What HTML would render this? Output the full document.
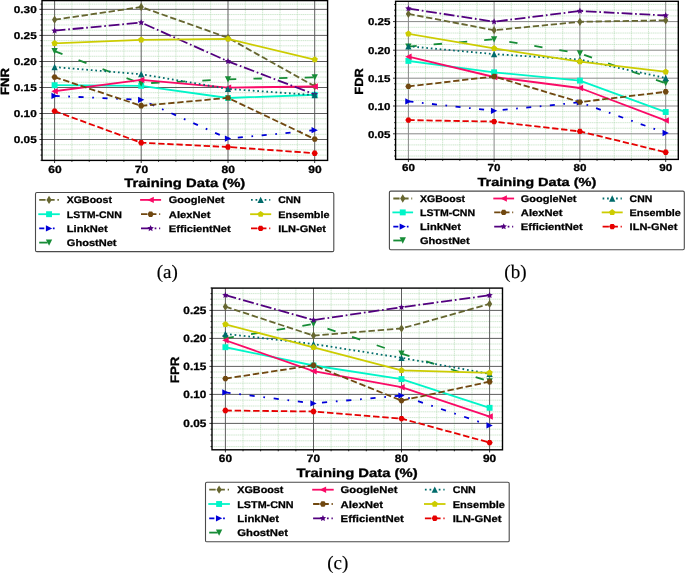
<!DOCTYPE html>
<html><head><meta charset="utf-8"><style>
html,body{margin:0;padding:0;background:#fff;}
svg{display:block;will-change:transform;text-rendering:geometricPrecision;}
</style></head><body>
<svg width="685" height="573" viewBox="0 0 685 573">
<rect width="685" height="573" fill="#fff"/>
<path d="M42 155.1H327.6M42 149.9H327.6M42 144.7H327.6M42 134.3H327.6M42 129.1H327.6M42 123.9H327.6M42 118.7H327.6M42 108.3H327.6M42 103.1H327.6M42 97.9H327.6M42 92.7H327.6M42 82.3H327.6M42 77.1H327.6M42 71.9H327.6M42 66.7H327.6M42 56.28H327.6M42 51.06H327.6M42 45.84H327.6M42 40.62H327.6M42 30.19H327.6M42 24.98H327.6M42 19.77H327.6M42 14.56H327.6M42 4.14H327.6M71.92 0.6V160.4M89.24 0.6V160.4M106.56 0.6V160.4M123.88 0.6V160.4M158.56 0.6V160.4M175.92 0.6V160.4M193.28 0.6V160.4M210.64 0.6V160.4M245.34 0.6V160.4M262.68 0.6V160.4M280.02 0.6V160.4M297.36 0.6V160.4" stroke="#a8d6a8" stroke-width="0.85" stroke-dasharray="1.3 0.55" fill="none" opacity="0.66"/>
<path d="M42 139.5H327.6M42 113.5H327.6M42 87.5H327.6M42 61.5H327.6M42 35.4H327.6M42 9.35H327.6M54.6 0.6V160.4M141.2 0.6V160.4M228 0.6V160.4M314.7 0.6V160.4" stroke="#555" stroke-width="0.95" fill="none"/>
<path d="M40.5 160.3H42M40.5 155.1H42M40.5 149.9H42M40.5 144.7H42M39.4 139.5H42M40.5 134.3H42M40.5 129.1H42M40.5 123.9H42M40.5 118.7H42M39.4 113.5H42M40.5 108.3H42M40.5 103.1H42M40.5 97.9H42M40.5 92.7H42M39.4 87.5H42M40.5 82.3H42M40.5 77.1H42M40.5 71.9H42M40.5 66.7H42M39.4 61.5H42M40.5 56.28H42M40.5 51.06H42M40.5 45.84H42M40.5 40.62H42M39.4 35.4H42M40.5 30.19H42M40.5 24.98H42M40.5 19.77H42M40.5 14.56H42M39.4 9.35H42M40.5 4.14H42M54.6 160.4V163M71.92 160.4V161.9M89.24 160.4V161.9M106.56 160.4V161.9M123.88 160.4V161.9M141.2 160.4V163M158.56 160.4V161.9M175.92 160.4V161.9M193.28 160.4V161.9M210.64 160.4V161.9M228 160.4V163M245.34 160.4V161.9M262.68 160.4V161.9M280.02 160.4V161.9M297.36 160.4V161.9M314.7 160.4V163" stroke="#000" stroke-width="0.8" fill="none"/>
<polyline points="54.6,19.7 141.2,7 228,37.8 314.7,86.3" fill="none" stroke="#666630" stroke-width="1.8" stroke-linejoin="round" stroke-linecap="butt" stroke-dasharray="6.35 2.75"/>
<polygon points="54.6,15.55 57.2,19.7 54.6,23.85 52,19.7" fill="#666630"/>
<polygon points="141.2,2.85 143.8,7 141.2,11.15 138.6,7" fill="#666630"/>
<polygon points="228,33.65 230.6,37.8 228,41.95 225.4,37.8" fill="#666630"/>
<polygon points="314.7,82.15 317.3,86.3 314.7,90.45 312.1,86.3" fill="#666630"/>
<polyline points="54.6,85.2 141.2,85.8 228,98 314.7,94.8" fill="none" stroke="#00f5c8" stroke-width="1.8" stroke-linejoin="round" stroke-linecap="square"/>
<rect x="51.65" y="82.25" width="5.9" height="5.9" fill="#00f5c8"/>
<rect x="138.25" y="82.85" width="5.9" height="5.9" fill="#00f5c8"/>
<rect x="225.05" y="95.05" width="5.9" height="5.9" fill="#00f5c8"/>
<rect x="311.75" y="91.85" width="5.9" height="5.9" fill="#00f5c8"/>
<polyline points="54.6,95.9 141.2,99.8 228,138.6 314.7,130.2" fill="none" stroke="#0000d8" stroke-width="1.8" stroke-linejoin="round" stroke-linecap="butt" stroke-dasharray="5.1 8.6 1.7 8.55"/>
<polygon points="57.75,95.9 51.45,92.75 51.45,99.05" fill="#0000d8"/>
<polygon points="144.35,99.8 138.05,96.65 138.05,102.95" fill="#0000d8"/>
<polygon points="231.15,138.6 224.85,135.45 224.85,141.75" fill="#0000d8"/>
<polygon points="317.85,130.2 311.55,127.05 311.55,133.35" fill="#0000d8"/>
<polyline points="54.6,51.2 141.2,83.5 228,79.3 314.7,77.3" fill="none" stroke="#168c36" stroke-width="1.8" stroke-linejoin="round" stroke-linecap="butt" stroke-dasharray="8.4 17.2"/>
<polygon points="51.45,48.05 57.75,48.05 54.6,54.35" fill="#168c36"/>
<polygon points="138.05,80.35 144.35,80.35 141.2,86.65" fill="#168c36"/>
<polygon points="224.85,76.15 231.15,76.15 228,82.45" fill="#168c36"/>
<polygon points="311.55,74.15 317.85,74.15 314.7,80.45" fill="#168c36"/>
<polyline points="54.6,91.2 141.2,79.9 228,87.6 314.7,86.5" fill="none" stroke="#fa0a66" stroke-width="1.8" stroke-linejoin="round" stroke-linecap="square"/>
<polygon points="51.4,91.2 57.8,88 57.8,94.4" fill="#fa0a66"/>
<polygon points="138,79.9 144.4,76.7 144.4,83.1" fill="#fa0a66"/>
<polygon points="224.8,87.6 231.2,84.4 231.2,90.8" fill="#fa0a66"/>
<polygon points="311.5,86.5 317.9,83.3 317.9,89.7" fill="#fa0a66"/>
<polyline points="54.6,77.1 141.2,105.8 228,97.9 314.7,139.1" fill="none" stroke="#704810" stroke-width="1.8" stroke-linejoin="round" stroke-linecap="butt" stroke-dasharray="6.35 2.75"/>
<polygon points="57.7,77.1 56.15,79.78 53.05,79.78 51.5,77.1 53.05,74.42 56.15,74.42" fill="#704810"/>
<polygon points="144.3,105.8 142.75,108.48 139.65,108.48 138.1,105.8 139.65,103.12 142.75,103.12" fill="#704810"/>
<polygon points="231.1,97.9 229.55,100.58 226.45,100.58 224.9,97.9 226.45,95.22 229.55,95.22" fill="#704810"/>
<polygon points="317.8,139.1 316.25,141.78 313.15,141.78 311.6,139.1 313.15,136.42 316.25,136.42" fill="#704810"/>
<polyline points="54.6,30.7 141.2,22.6 228,61.3 314.7,94.4" fill="none" stroke="#52007f" stroke-width="1.8" stroke-linejoin="round" stroke-linecap="butt" stroke-dasharray="10.9 2.75 1.7 2.75"/>
<polygon points="54.6,27.3 55.54,29.41 57.83,29.65 56.12,31.19 56.6,33.45 54.6,32.3 52.6,33.45 53.08,31.19 51.37,29.65 53.66,29.41" fill="#52007f"/>
<polygon points="141.2,19.2 142.14,21.31 144.43,21.55 142.72,23.09 143.2,25.35 141.2,24.2 139.2,25.35 139.68,23.09 137.97,21.55 140.26,21.31" fill="#52007f"/>
<polygon points="228,57.9 228.94,60.01 231.23,60.25 229.52,61.79 230,64.05 228,62.9 226,64.05 226.48,61.79 224.77,60.25 227.06,60.01" fill="#52007f"/>
<polygon points="314.7,91 315.64,93.11 317.93,93.35 316.22,94.89 316.7,97.15 314.7,96 312.7,97.15 313.18,94.89 311.47,93.35 313.76,93.11" fill="#52007f"/>
<polyline points="54.6,67.1 141.2,74.2 228,88.9 314.7,95.1" fill="none" stroke="#006b6b" stroke-width="1.8" stroke-linejoin="round" stroke-linecap="butt" stroke-dasharray="1.7 2.84"/>
<polygon points="54.6,63.95 57.75,70.25 51.45,70.25" fill="#006b6b"/>
<polygon points="141.2,71.05 144.35,77.35 138.05,77.35" fill="#006b6b"/>
<polygon points="228,85.75 231.15,92.05 224.85,92.05" fill="#006b6b"/>
<polygon points="314.7,91.95 317.85,98.25 311.55,98.25" fill="#006b6b"/>
<polyline points="54.6,43.3 141.2,39.8 228,38.9 314.7,59.6" fill="none" stroke="#cccc00" stroke-width="1.8" stroke-linejoin="round" stroke-linecap="square"/>
<polygon points="54.6,40 57.74,42.28 56.54,45.97 52.66,45.97 51.46,42.28" fill="#cccc00"/>
<polygon points="141.2,36.5 144.34,38.78 143.14,42.47 139.26,42.47 138.06,38.78" fill="#cccc00"/>
<polygon points="228,35.6 231.14,37.88 229.94,41.57 226.06,41.57 224.86,37.88" fill="#cccc00"/>
<polygon points="314.7,56.3 317.84,58.58 316.64,62.27 312.76,62.27 311.56,58.58" fill="#cccc00"/>
<polyline points="54.6,111.1 141.2,142.7 228,147 314.7,153.2" fill="none" stroke="#e60000" stroke-width="1.8" stroke-linejoin="round" stroke-linecap="butt" stroke-dasharray="6.35 2.75"/>
<polygon points="57.7,111.1 56.15,113.78 53.05,113.78 51.5,111.1 53.05,108.42 56.15,108.42" fill="#e60000"/>
<polygon points="144.3,142.7 142.75,145.38 139.65,145.38 138.1,142.7 139.65,140.02 142.75,140.02" fill="#e60000"/>
<polygon points="231.1,147 229.55,149.68 226.45,149.68 224.9,147 226.45,144.32 229.55,144.32" fill="#e60000"/>
<polygon points="317.8,153.2 316.25,155.88 313.15,155.88 311.6,153.2 313.15,150.52 316.25,150.52" fill="#e60000"/>
<rect x="42" y="0.6" width="285.6" height="159.8" fill="none" stroke="#000" stroke-width="1.4"/>
<text x="36.7" y="143.2" font-family='"Liberation Sans", sans-serif' font-size="10" font-weight="bold" text-anchor="end" textLength="22.95" lengthAdjust="spacingAndGlyphs" stroke="#000" stroke-width="0.28">0.05</text>
<text x="36.7" y="117.2" font-family='"Liberation Sans", sans-serif' font-size="10" font-weight="bold" text-anchor="end" textLength="22.95" lengthAdjust="spacingAndGlyphs" stroke="#000" stroke-width="0.28">0.10</text>
<text x="36.7" y="91.2" font-family='"Liberation Sans", sans-serif' font-size="10" font-weight="bold" text-anchor="end" textLength="22.95" lengthAdjust="spacingAndGlyphs" stroke="#000" stroke-width="0.28">0.15</text>
<text x="36.7" y="65.2" font-family='"Liberation Sans", sans-serif' font-size="10" font-weight="bold" text-anchor="end" textLength="22.95" lengthAdjust="spacingAndGlyphs" stroke="#000" stroke-width="0.28">0.20</text>
<text x="36.7" y="39.1" font-family='"Liberation Sans", sans-serif' font-size="10" font-weight="bold" text-anchor="end" textLength="22.95" lengthAdjust="spacingAndGlyphs" stroke="#000" stroke-width="0.28">0.25</text>
<text x="36.7" y="13.05" font-family='"Liberation Sans", sans-serif' font-size="10" font-weight="bold" text-anchor="end" textLength="22.95" lengthAdjust="spacingAndGlyphs" stroke="#000" stroke-width="0.28">0.30</text>
<text x="54.9" y="172.9" font-family='"Liberation Sans", sans-serif' font-size="10.4" font-weight="bold" text-anchor="middle" textLength="13.36" lengthAdjust="spacingAndGlyphs" stroke="#000" stroke-width="0.29">60</text>
<text x="141.5" y="172.9" font-family='"Liberation Sans", sans-serif' font-size="10.4" font-weight="bold" text-anchor="middle" textLength="13.36" lengthAdjust="spacingAndGlyphs" stroke="#000" stroke-width="0.29">70</text>
<text x="228.3" y="172.9" font-family='"Liberation Sans", sans-serif' font-size="10.4" font-weight="bold" text-anchor="middle" textLength="13.36" lengthAdjust="spacingAndGlyphs" stroke="#000" stroke-width="0.29">80</text>
<text x="315" y="172.9" font-family='"Liberation Sans", sans-serif' font-size="10.4" font-weight="bold" text-anchor="middle" textLength="13.36" lengthAdjust="spacingAndGlyphs" stroke="#000" stroke-width="0.29">90</text>
<text x="184.8" y="186.9" font-family='"Liberation Sans", sans-serif' font-size="12" font-weight="bold" text-anchor="middle" textLength="121" lengthAdjust="spacingAndGlyphs" stroke="#000" stroke-width="0.34">Training Data (%)</text>
<g transform="translate(9,81.6) rotate(-90)"><text x="0" y="0" font-family='"Liberation Sans", sans-serif' font-size="12" font-weight="bold" text-anchor="middle" textLength="26.8" lengthAdjust="spacingAndGlyphs" stroke="#000" stroke-width="0.34">FNR</text></g>
<rect x="35.5" y="192.5" width="298.3" height="59.1" rx="1.4" ry="1.4" fill="#fff" stroke="#4a4a4a" stroke-width="1.1"/>
<polyline points="39.2,199.9 58.9,199.9" fill="none" stroke="#666630" stroke-width="1.8" stroke-linejoin="round" stroke-linecap="butt" stroke-dasharray="6.35 2.75"/>
<polygon points="49.05,195.75 51.65,199.9 49.05,204.05 46.45,199.9" fill="#666630"/>
<text x="66.8" y="203.3" font-family='"Liberation Sans", sans-serif' font-size="9.6" font-weight="bold" text-anchor="start" textLength="45.13" lengthAdjust="spacingAndGlyphs" stroke="#000" stroke-width="0.27">XGBoost</text>
<polyline points="39.2,214.2 58.9,214.2" fill="none" stroke="#00f5c8" stroke-width="1.8" stroke-linejoin="round" stroke-linecap="square"/>
<rect x="46.1" y="211.25" width="5.9" height="5.9" fill="#00f5c8"/>
<text x="66.8" y="217.6" font-family='"Liberation Sans", sans-serif' font-size="9.6" font-weight="bold" text-anchor="start" textLength="55.06" lengthAdjust="spacingAndGlyphs" stroke="#000" stroke-width="0.27">LSTM-CNN</text>
<polyline points="39.2,228.4 58.9,228.4" fill="none" stroke="#0000d8" stroke-width="1.8" stroke-linejoin="round" stroke-linecap="butt" stroke-dasharray="5.1 8.6 1.7 8.55"/>
<polygon points="52.2,228.4 45.9,225.25 45.9,231.55" fill="#0000d8"/>
<text x="66.8" y="231.8" font-family='"Liberation Sans", sans-serif' font-size="9.6" font-weight="bold" text-anchor="start" textLength="40.89" lengthAdjust="spacingAndGlyphs" stroke="#000" stroke-width="0.27">LinkNet</text>
<polyline points="39.2,242.6 58.9,242.6" fill="none" stroke="#168c36" stroke-width="1.8" stroke-linejoin="round" stroke-linecap="butt" stroke-dasharray="8.4 17.2"/>
<polygon points="45.9,239.45 52.2,239.45 49.05,245.75" fill="#168c36"/>
<text x="66.8" y="246" font-family='"Liberation Sans", sans-serif' font-size="9.6" font-weight="bold" text-anchor="start" textLength="49.69" lengthAdjust="spacingAndGlyphs" stroke="#000" stroke-width="0.27">GhostNet</text>
<polyline points="141,199.9 160.2,199.9" fill="none" stroke="#fa0a66" stroke-width="1.8" stroke-linejoin="round" stroke-linecap="square"/>
<polygon points="147.4,199.9 153.8,196.7 153.8,203.1" fill="#fa0a66"/>
<text x="168.8" y="203.3" font-family='"Liberation Sans", sans-serif' font-size="9.6" font-weight="bold" text-anchor="start" textLength="55.69" lengthAdjust="spacingAndGlyphs" stroke="#000" stroke-width="0.27">GoogleNet</text>
<polyline points="141,214.2 160.2,214.2" fill="none" stroke="#704810" stroke-width="1.8" stroke-linejoin="round" stroke-linecap="butt" stroke-dasharray="6.35 2.75"/>
<polygon points="153.7,214.2 152.15,216.88 149.05,216.88 147.5,214.2 149.05,211.52 152.15,211.52" fill="#704810"/>
<text x="168.8" y="217.6" font-family='"Liberation Sans", sans-serif' font-size="9.6" font-weight="bold" text-anchor="start" textLength="41.67" lengthAdjust="spacingAndGlyphs" stroke="#000" stroke-width="0.27">AlexNet</text>
<polyline points="141,228.4 160.2,228.4" fill="none" stroke="#52007f" stroke-width="1.8" stroke-linejoin="round" stroke-linecap="butt" stroke-dasharray="10.9 2.75 1.7 2.75"/>
<polygon points="150.6,225 151.54,227.11 153.83,227.35 152.12,228.89 152.6,231.15 150.6,230 148.6,231.15 149.08,228.89 147.37,227.35 149.66,227.11" fill="#52007f"/>
<text x="168.8" y="231.8" font-family='"Liberation Sans", sans-serif' font-size="9.6" font-weight="bold" text-anchor="start" textLength="62" lengthAdjust="spacingAndGlyphs" stroke="#000" stroke-width="0.27">EfficientNet</text>
<polyline points="251,199.9 270.3,199.9" fill="none" stroke="#006b6b" stroke-width="1.8" stroke-linejoin="round" stroke-linecap="butt" stroke-dasharray="1.7 2.84"/>
<polygon points="260.65,196.75 263.8,203.05 257.5,203.05" fill="#006b6b"/>
<text x="278.3" y="203.3" font-family='"Liberation Sans", sans-serif' font-size="9.6" font-weight="bold" text-anchor="start" textLength="22.63" lengthAdjust="spacingAndGlyphs" stroke="#000" stroke-width="0.27">CNN</text>
<polyline points="251,214.2 270.3,214.2" fill="none" stroke="#cccc00" stroke-width="1.8" stroke-linejoin="round" stroke-linecap="square"/>
<polygon points="260.65,210.9 263.79,213.18 262.59,216.87 258.71,216.87 257.51,213.18" fill="#cccc00"/>
<text x="278.3" y="217.6" font-family='"Liberation Sans", sans-serif' font-size="9.6" font-weight="bold" text-anchor="start" textLength="51.2" lengthAdjust="spacingAndGlyphs" stroke="#000" stroke-width="0.27">Ensemble</text>
<polyline points="251,228.4 270.3,228.4" fill="none" stroke="#e60000" stroke-width="1.8" stroke-linejoin="round" stroke-linecap="butt" stroke-dasharray="6.35 2.75"/>
<polygon points="263.75,228.4 262.2,231.08 259.1,231.08 257.55,228.4 259.1,225.72 262.2,225.72" fill="#e60000"/>
<text x="278.3" y="231.8" font-family='"Liberation Sans", sans-serif' font-size="9.6" font-weight="bold" text-anchor="start" textLength="47.71" lengthAdjust="spacingAndGlyphs" stroke="#000" stroke-width="0.27">ILN-GNet</text>
<text x="167.3" y="277.8" font-family='"Liberation Serif", serif' font-size="19" font-weight="normal" text-anchor="middle" stroke="#000" stroke-width="0.15">(a)</text>
<path d="M395.6 156.04H678.3M395.6 150.48H678.3M395.6 144.92H678.3M395.6 139.36H678.3M395.6 128.24H678.3M395.6 122.68H678.3M395.6 117.12H678.3M395.6 111.56H678.3M395.6 100.44H678.3M395.6 94.88H678.3M395.6 89.32H678.3M395.6 83.76H678.3M395.6 72.6H678.3M395.6 67H678.3M395.6 61.4H678.3M395.6 55.8H678.3M395.6 44.48H678.3M395.6 38.76H678.3M395.6 33.04H678.3M395.6 27.32H678.3M395.6 15.88H678.3M395.6 10.16H678.3M395.6 4.44H678.3M425.54 1.3V159.4M442.68 1.3V159.4M459.82 1.3V159.4M476.96 1.3V159.4M511.26 1.3V159.4M528.42 1.3V159.4M545.58 1.3V159.4M562.74 1.3V159.4M597.06 1.3V159.4M614.22 1.3V159.4M631.38 1.3V159.4M648.54 1.3V159.4" stroke="#a8d6a8" stroke-width="0.85" stroke-dasharray="1.3 0.55" fill="none" opacity="0.66"/>
<path d="M395.6 133.8H678.3M395.6 106H678.3M395.6 78.2H678.3M395.6 50.2H678.3M395.6 21.6H678.3M408.4 1.3V159.4M494.1 1.3V159.4M579.9 1.3V159.4M665.7 1.3V159.4" stroke="#888" stroke-width="1.0" fill="none"/>
<path d="M394.1 156.04H395.6M394.1 150.48H395.6M394.1 144.92H395.6M394.1 139.36H395.6M393 133.8H395.6M394.1 128.24H395.6M394.1 122.68H395.6M394.1 117.12H395.6M394.1 111.56H395.6M393 106H395.6M394.1 100.44H395.6M394.1 94.88H395.6M394.1 89.32H395.6M394.1 83.76H395.6M393 78.2H395.6M394.1 72.6H395.6M394.1 67H395.6M394.1 61.4H395.6M394.1 55.8H395.6M393 50.2H395.6M394.1 44.48H395.6M394.1 38.76H395.6M394.1 33.04H395.6M394.1 27.32H395.6M393 21.6H395.6M394.1 15.88H395.6M394.1 10.16H395.6M394.1 4.44H395.6M408.4 159.4V162M425.54 159.4V160.9M442.68 159.4V160.9M459.82 159.4V160.9M476.96 159.4V160.9M494.1 159.4V162M511.26 159.4V160.9M528.42 159.4V160.9M545.58 159.4V160.9M562.74 159.4V160.9M579.9 159.4V162M597.06 159.4V160.9M614.22 159.4V160.9M631.38 159.4V160.9M648.54 159.4V160.9M665.7 159.4V162" stroke="#000" stroke-width="0.8" fill="none"/>
<polyline points="408.4,13.9 494.1,30.2 579.9,21.8 665.7,20.3" fill="none" stroke="#666630" stroke-width="1.8" stroke-linejoin="round" stroke-linecap="butt" stroke-dasharray="6.29 2.72"/>
<polygon points="408.4,9.75 411,13.9 408.4,18.05 405.8,13.9" fill="#666630"/>
<polygon points="494.1,26.05 496.7,30.2 494.1,34.35 491.5,30.2" fill="#666630"/>
<polygon points="579.9,17.65 582.5,21.8 579.9,25.95 577.3,21.8" fill="#666630"/>
<polygon points="665.7,16.15 668.3,20.3 665.7,24.45 663.1,20.3" fill="#666630"/>
<polyline points="408.4,60.9 494.1,72.3 579.9,80.6 665.7,112" fill="none" stroke="#00f5c8" stroke-width="1.8" stroke-linejoin="round" stroke-linecap="square"/>
<rect x="405.45" y="57.95" width="5.9" height="5.9" fill="#00f5c8"/>
<rect x="491.15" y="69.35" width="5.9" height="5.9" fill="#00f5c8"/>
<rect x="576.95" y="77.65" width="5.9" height="5.9" fill="#00f5c8"/>
<rect x="662.75" y="109.05" width="5.9" height="5.9" fill="#00f5c8"/>
<polyline points="408.4,101.4 494.1,110.8 579.9,102.3 665.7,133" fill="none" stroke="#0000d8" stroke-width="1.8" stroke-linejoin="round" stroke-linecap="butt" stroke-dasharray="5.05 8.51 1.68 8.46"/>
<polygon points="411.55,101.4 405.25,98.25 405.25,104.55" fill="#0000d8"/>
<polygon points="497.25,110.8 490.95,107.65 490.95,113.95" fill="#0000d8"/>
<polygon points="583.05,102.3 576.75,99.15 576.75,105.45" fill="#0000d8"/>
<polygon points="668.85,133 662.55,129.85 662.55,136.15" fill="#0000d8"/>
<polyline points="408.4,46.6 494.1,39.3 579.9,53.5 665.7,83.2" fill="none" stroke="#168c36" stroke-width="1.8" stroke-linejoin="round" stroke-linecap="butt" stroke-dasharray="8.32 17.03"/>
<polygon points="405.25,43.45 411.55,43.45 408.4,49.75" fill="#168c36"/>
<polygon points="490.95,36.15 497.25,36.15 494.1,42.45" fill="#168c36"/>
<polygon points="576.75,50.35 583.05,50.35 579.9,56.65" fill="#168c36"/>
<polygon points="662.55,80.05 668.85,80.05 665.7,86.35" fill="#168c36"/>
<polyline points="408.4,56.7 494.1,77 579.9,88 665.7,120.5" fill="none" stroke="#fa0a66" stroke-width="1.8" stroke-linejoin="round" stroke-linecap="square"/>
<polygon points="405.2,56.7 411.6,53.5 411.6,59.9" fill="#fa0a66"/>
<polygon points="490.9,77 497.3,73.8 497.3,80.2" fill="#fa0a66"/>
<polygon points="576.7,88 583.1,84.8 583.1,91.2" fill="#fa0a66"/>
<polygon points="662.5,120.5 668.9,117.3 668.9,123.7" fill="#fa0a66"/>
<polyline points="408.4,86.4 494.1,76.5 579.9,102.1 665.7,91.8" fill="none" stroke="#704810" stroke-width="1.8" stroke-linejoin="round" stroke-linecap="butt" stroke-dasharray="6.29 2.72"/>
<polygon points="411.5,86.4 409.95,89.08 406.85,89.08 405.3,86.4 406.85,83.72 409.95,83.72" fill="#704810"/>
<polygon points="497.2,76.5 495.65,79.18 492.55,79.18 491,76.5 492.55,73.82 495.65,73.82" fill="#704810"/>
<polygon points="583,102.1 581.45,104.78 578.35,104.78 576.8,102.1 578.35,99.42 581.45,99.42" fill="#704810"/>
<polygon points="668.8,91.8 667.25,94.48 664.15,94.48 662.6,91.8 664.15,89.12 667.25,89.12" fill="#704810"/>
<polyline points="408.4,8.6 494.1,21.7 579.9,11 665.7,15.5" fill="none" stroke="#52007f" stroke-width="1.8" stroke-linejoin="round" stroke-linecap="butt" stroke-dasharray="10.79 2.72 1.68 2.72"/>
<polygon points="408.4,5.2 409.34,7.31 411.63,7.55 409.92,9.09 410.4,11.35 408.4,10.2 406.4,11.35 406.88,9.09 405.17,7.55 407.46,7.31" fill="#52007f"/>
<polygon points="494.1,18.3 495.04,20.41 497.33,20.65 495.62,22.19 496.1,24.45 494.1,23.3 492.1,24.45 492.58,22.19 490.87,20.65 493.16,20.41" fill="#52007f"/>
<polygon points="579.9,7.6 580.84,9.71 583.13,9.95 581.42,11.49 581.9,13.75 579.9,12.6 577.9,13.75 578.38,11.49 576.67,9.95 578.96,9.71" fill="#52007f"/>
<polygon points="665.7,12.1 666.64,14.21 668.93,14.45 667.22,15.99 667.7,18.25 665.7,17.1 663.7,18.25 664.18,15.99 662.47,14.45 664.76,14.21" fill="#52007f"/>
<polyline points="408.4,46.3 494.1,54.1 579.9,59.6 665.7,78" fill="none" stroke="#006b6b" stroke-width="1.8" stroke-linejoin="round" stroke-linecap="butt" stroke-dasharray="1.68 2.81"/>
<polygon points="408.4,43.15 411.55,49.45 405.25,49.45" fill="#006b6b"/>
<polygon points="494.1,50.95 497.25,57.25 490.95,57.25" fill="#006b6b"/>
<polygon points="579.9,56.45 583.05,62.75 576.75,62.75" fill="#006b6b"/>
<polygon points="665.7,74.85 668.85,81.15 662.55,81.15" fill="#006b6b"/>
<polyline points="408.4,33.8 494.1,48.4 579.9,61.6 665.7,71.8" fill="none" stroke="#cccc00" stroke-width="1.8" stroke-linejoin="round" stroke-linecap="square"/>
<polygon points="408.4,30.5 411.54,32.78 410.34,36.47 406.46,36.47 405.26,32.78" fill="#cccc00"/>
<polygon points="494.1,45.1 497.24,47.38 496.04,51.07 492.16,51.07 490.96,47.38" fill="#cccc00"/>
<polygon points="579.9,58.3 583.04,60.58 581.84,64.27 577.96,64.27 576.76,60.58" fill="#cccc00"/>
<polygon points="665.7,68.5 668.84,70.78 667.64,74.47 663.76,74.47 662.56,70.78" fill="#cccc00"/>
<polyline points="408.4,120.1 494.1,121.6 579.9,131.4 665.7,152.3" fill="none" stroke="#e60000" stroke-width="1.8" stroke-linejoin="round" stroke-linecap="butt" stroke-dasharray="6.29 2.72"/>
<polygon points="411.5,120.1 409.95,122.78 406.85,122.78 405.3,120.1 406.85,117.42 409.95,117.42" fill="#e60000"/>
<polygon points="497.2,121.6 495.65,124.28 492.55,124.28 491,121.6 492.55,118.92 495.65,118.92" fill="#e60000"/>
<polygon points="583,131.4 581.45,134.08 578.35,134.08 576.8,131.4 578.35,128.72 581.45,128.72" fill="#e60000"/>
<polygon points="668.8,152.3 667.25,154.98 664.15,154.98 662.6,152.3 664.15,149.62 667.25,149.62" fill="#e60000"/>
<rect x="395.6" y="1.3" width="282.7" height="158.1" fill="none" stroke="#000" stroke-width="1.4"/>
<text x="390.4" y="137.5" font-family='"Liberation Sans", sans-serif' font-size="10" font-weight="bold" text-anchor="end" textLength="22.45" lengthAdjust="spacingAndGlyphs" stroke="#000" stroke-width="0.28">0.05</text>
<text x="390.4" y="109.7" font-family='"Liberation Sans", sans-serif' font-size="10" font-weight="bold" text-anchor="end" textLength="22.45" lengthAdjust="spacingAndGlyphs" stroke="#000" stroke-width="0.28">0.10</text>
<text x="390.4" y="81.9" font-family='"Liberation Sans", sans-serif' font-size="10" font-weight="bold" text-anchor="end" textLength="22.45" lengthAdjust="spacingAndGlyphs" stroke="#000" stroke-width="0.28">0.15</text>
<text x="390.4" y="53.9" font-family='"Liberation Sans", sans-serif' font-size="10" font-weight="bold" text-anchor="end" textLength="22.45" lengthAdjust="spacingAndGlyphs" stroke="#000" stroke-width="0.28">0.20</text>
<text x="390.4" y="25.3" font-family='"Liberation Sans", sans-serif' font-size="10" font-weight="bold" text-anchor="end" textLength="22.45" lengthAdjust="spacingAndGlyphs" stroke="#000" stroke-width="0.28">0.25</text>
<text x="408.4" y="171.3" font-family='"Liberation Sans", sans-serif' font-size="10.2" font-weight="bold" text-anchor="middle" textLength="12.94" lengthAdjust="spacingAndGlyphs" stroke="#000" stroke-width="0.29">60</text>
<text x="494.1" y="171.3" font-family='"Liberation Sans", sans-serif' font-size="10.2" font-weight="bold" text-anchor="middle" textLength="12.94" lengthAdjust="spacingAndGlyphs" stroke="#000" stroke-width="0.29">70</text>
<text x="579.9" y="171.3" font-family='"Liberation Sans", sans-serif' font-size="10.2" font-weight="bold" text-anchor="middle" textLength="12.94" lengthAdjust="spacingAndGlyphs" stroke="#000" stroke-width="0.29">80</text>
<text x="665.7" y="171.3" font-family='"Liberation Sans", sans-serif' font-size="10.2" font-weight="bold" text-anchor="middle" textLength="12.94" lengthAdjust="spacingAndGlyphs" stroke="#000" stroke-width="0.29">90</text>
<text x="536.9" y="185.7" font-family='"Liberation Sans", sans-serif' font-size="11.8" font-weight="bold" text-anchor="middle" textLength="119" lengthAdjust="spacingAndGlyphs" stroke="#000" stroke-width="0.33">Training Data (%)</text>
<g transform="translate(362.9,81.5) rotate(-90)"><text x="0" y="0" font-family='"Liberation Sans", sans-serif' font-size="11.8" font-weight="bold" text-anchor="middle" textLength="26.4" lengthAdjust="spacingAndGlyphs" stroke="#000" stroke-width="0.33">FDR</text></g>
<rect x="389.4" y="191.1" width="294.9" height="58.6" rx="1.4" ry="1.4" fill="#fff" stroke="#4a4a4a" stroke-width="1.1"/>
<polyline points="393.3,198.5 412.2,198.5" fill="none" stroke="#666630" stroke-width="1.8" stroke-linejoin="round" stroke-linecap="butt" stroke-dasharray="6.29 2.72"/>
<polygon points="402.75,194.35 405.35,198.5 402.75,202.65 400.15,198.5" fill="#666630"/>
<text x="420" y="201.9" font-family='"Liberation Sans", sans-serif' font-size="9.6" font-weight="bold" text-anchor="start" textLength="45.13" lengthAdjust="spacingAndGlyphs" stroke="#000" stroke-width="0.27">XGBoost</text>
<polyline points="393.3,212.4 412.2,212.4" fill="none" stroke="#00f5c8" stroke-width="1.8" stroke-linejoin="round" stroke-linecap="square"/>
<rect x="399.8" y="209.45" width="5.9" height="5.9" fill="#00f5c8"/>
<text x="420" y="215.8" font-family='"Liberation Sans", sans-serif' font-size="9.6" font-weight="bold" text-anchor="start" textLength="55.06" lengthAdjust="spacingAndGlyphs" stroke="#000" stroke-width="0.27">LSTM-CNN</text>
<polyline points="393.3,226.6 412.2,226.6" fill="none" stroke="#0000d8" stroke-width="1.8" stroke-linejoin="round" stroke-linecap="butt" stroke-dasharray="5.05 8.51 1.68 8.46"/>
<polygon points="405.9,226.6 399.6,223.45 399.6,229.75" fill="#0000d8"/>
<text x="420" y="230" font-family='"Liberation Sans", sans-serif' font-size="9.6" font-weight="bold" text-anchor="start" textLength="40.89" lengthAdjust="spacingAndGlyphs" stroke="#000" stroke-width="0.27">LinkNet</text>
<polyline points="393.3,240.5 412.2,240.5" fill="none" stroke="#168c36" stroke-width="1.8" stroke-linejoin="round" stroke-linecap="butt" stroke-dasharray="8.32 17.03"/>
<polygon points="399.6,237.35 405.9,237.35 402.75,243.65" fill="#168c36"/>
<text x="420" y="243.9" font-family='"Liberation Sans", sans-serif' font-size="9.6" font-weight="bold" text-anchor="start" textLength="49.69" lengthAdjust="spacingAndGlyphs" stroke="#000" stroke-width="0.27">GhostNet</text>
<polyline points="494.2,198.5 513.2,198.5" fill="none" stroke="#fa0a66" stroke-width="1.8" stroke-linejoin="round" stroke-linecap="square"/>
<polygon points="500.5,198.5 506.9,195.3 506.9,201.7" fill="#fa0a66"/>
<text x="520.8" y="201.9" font-family='"Liberation Sans", sans-serif' font-size="9.6" font-weight="bold" text-anchor="start" textLength="55.69" lengthAdjust="spacingAndGlyphs" stroke="#000" stroke-width="0.27">GoogleNet</text>
<polyline points="494.2,212.4 513.2,212.4" fill="none" stroke="#704810" stroke-width="1.8" stroke-linejoin="round" stroke-linecap="butt" stroke-dasharray="6.29 2.72"/>
<polygon points="506.8,212.4 505.25,215.08 502.15,215.08 500.6,212.4 502.15,209.72 505.25,209.72" fill="#704810"/>
<text x="520.8" y="215.8" font-family='"Liberation Sans", sans-serif' font-size="9.6" font-weight="bold" text-anchor="start" textLength="41.67" lengthAdjust="spacingAndGlyphs" stroke="#000" stroke-width="0.27">AlexNet</text>
<polyline points="494.2,226.6 513.2,226.6" fill="none" stroke="#52007f" stroke-width="1.8" stroke-linejoin="round" stroke-linecap="butt" stroke-dasharray="10.79 2.72 1.68 2.72"/>
<polygon points="503.7,223.2 504.64,225.31 506.93,225.55 505.22,227.09 505.7,229.35 503.7,228.2 501.7,229.35 502.18,227.09 500.47,225.55 502.76,225.31" fill="#52007f"/>
<text x="520.8" y="230" font-family='"Liberation Sans", sans-serif' font-size="9.6" font-weight="bold" text-anchor="start" textLength="62" lengthAdjust="spacingAndGlyphs" stroke="#000" stroke-width="0.27">EfficientNet</text>
<polyline points="602.6,198.5 621.8,198.5" fill="none" stroke="#006b6b" stroke-width="1.8" stroke-linejoin="round" stroke-linecap="butt" stroke-dasharray="1.68 2.81"/>
<polygon points="612.2,195.35 615.35,201.65 609.05,201.65" fill="#006b6b"/>
<text x="629.6" y="201.9" font-family='"Liberation Sans", sans-serif' font-size="9.6" font-weight="bold" text-anchor="start" textLength="22.63" lengthAdjust="spacingAndGlyphs" stroke="#000" stroke-width="0.27">CNN</text>
<polyline points="602.6,212.4 621.8,212.4" fill="none" stroke="#cccc00" stroke-width="1.8" stroke-linejoin="round" stroke-linecap="square"/>
<polygon points="612.2,209.1 615.34,211.38 614.14,215.07 610.26,215.07 609.06,211.38" fill="#cccc00"/>
<text x="629.6" y="215.8" font-family='"Liberation Sans", sans-serif' font-size="9.6" font-weight="bold" text-anchor="start" textLength="51.2" lengthAdjust="spacingAndGlyphs" stroke="#000" stroke-width="0.27">Ensemble</text>
<polyline points="602.6,226.6 621.8,226.6" fill="none" stroke="#e60000" stroke-width="1.8" stroke-linejoin="round" stroke-linecap="butt" stroke-dasharray="6.29 2.72"/>
<polygon points="615.3,226.6 613.75,229.28 610.65,229.28 609.1,226.6 610.65,223.92 613.75,223.92" fill="#e60000"/>
<text x="629.6" y="230" font-family='"Liberation Sans", sans-serif' font-size="9.6" font-weight="bold" text-anchor="start" textLength="47.71" lengthAdjust="spacingAndGlyphs" stroke="#000" stroke-width="0.27">ILN-GNet</text>
<text x="515.4" y="277.8" font-family='"Liberation Serif", serif' font-size="19" font-weight="normal" text-anchor="middle" stroke="#000" stroke-width="0.15">(b)</text>
<path d="M212 446.6H502.5M212 440.8H502.5M212 435H502.5M212 429.2H502.5M212 417.6H502.5M212 411.8H502.5M212 406H502.5M212 400.2H502.5M212 388.8H502.5M212 383.2H502.5M212 377.6H502.5M212 372H502.5M212 360.8H502.5M212 355.2H502.5M212 349.6H502.5M212 344H502.5M212 332.8H502.5M212 327.2H502.5M212 321.6H502.5M212 316H502.5M212 304.8H502.5M212 299.2H502.5M212 293.6H502.5M243.02 288.1V449.8M260.64 288.1V449.8M278.26 288.1V449.8M295.88 288.1V449.8M331.1 288.1V449.8M348.7 288.1V449.8M366.3 288.1V449.8M383.9 288.1V449.8M419.12 288.1V449.8M436.74 288.1V449.8M454.36 288.1V449.8M471.98 288.1V449.8" stroke="#a8d6a8" stroke-width="0.85" stroke-dasharray="1.3 0.55" fill="none" opacity="0.66"/>
<path d="M212 423.4H502.5M212 394.4H502.5M212 366.4H502.5M212 338.4H502.5M212 310.4H502.5M225.4 288.1V449.8M313.5 288.1V449.8M401.5 288.1V449.8M489.6 288.1V449.8" stroke="#555" stroke-width="0.95" fill="none"/>
<path d="M210.5 446.6H212M210.5 440.8H212M210.5 435H212M210.5 429.2H212M209.4 423.4H212M210.5 417.6H212M210.5 411.8H212M210.5 406H212M210.5 400.2H212M209.4 394.4H212M210.5 388.8H212M210.5 383.2H212M210.5 377.6H212M210.5 372H212M209.4 366.4H212M210.5 360.8H212M210.5 355.2H212M210.5 349.6H212M210.5 344H212M209.4 338.4H212M210.5 332.8H212M210.5 327.2H212M210.5 321.6H212M210.5 316H212M209.4 310.4H212M210.5 304.8H212M210.5 299.2H212M210.5 293.6H212M210.5 288H212M225.4 449.8V452.4M243.02 449.8V451.3M260.64 449.8V451.3M278.26 449.8V451.3M295.88 449.8V451.3M313.5 449.8V452.4M331.1 449.8V451.3M348.7 449.8V451.3M366.3 449.8V451.3M383.9 449.8V451.3M401.5 449.8V452.4M419.12 449.8V451.3M436.74 449.8V451.3M454.36 449.8V451.3M471.98 449.8V451.3M489.6 449.8V452.4" stroke="#000" stroke-width="0.8" fill="none"/>
<polyline points="225.4,306.7 313.5,335.6 401.5,328.5 489.6,303.9" fill="none" stroke="#666630" stroke-width="1.8" stroke-linejoin="round" stroke-linecap="butt" stroke-dasharray="6.45 2.79"/>
<polygon points="225.4,302.55 228,306.7 225.4,310.85 222.8,306.7" fill="#666630"/>
<polygon points="313.5,331.45 316.1,335.6 313.5,339.75 310.9,335.6" fill="#666630"/>
<polygon points="401.5,324.35 404.1,328.5 401.5,332.65 398.9,328.5" fill="#666630"/>
<polygon points="489.6,299.75 492.2,303.9 489.6,308.05 487,303.9" fill="#666630"/>
<polyline points="225.4,347.2 313.5,365.5 401.5,379.1 489.6,407.8" fill="none" stroke="#00f5c8" stroke-width="1.8" stroke-linejoin="round" stroke-linecap="square"/>
<rect x="222.45" y="344.25" width="5.9" height="5.9" fill="#00f5c8"/>
<rect x="310.55" y="362.55" width="5.9" height="5.9" fill="#00f5c8"/>
<rect x="398.55" y="376.15" width="5.9" height="5.9" fill="#00f5c8"/>
<rect x="486.65" y="404.85" width="5.9" height="5.9" fill="#00f5c8"/>
<polyline points="225.4,392.4 313.5,403.4 401.5,395.6 489.6,425.4" fill="none" stroke="#0000d8" stroke-width="1.8" stroke-linejoin="round" stroke-linecap="butt" stroke-dasharray="5.18 8.73 1.73 8.68"/>
<polygon points="228.55,392.4 222.25,389.25 222.25,395.55" fill="#0000d8"/>
<polygon points="316.65,403.4 310.35,400.25 310.35,406.55" fill="#0000d8"/>
<polygon points="404.65,395.6 398.35,392.45 398.35,398.75" fill="#0000d8"/>
<polygon points="492.75,425.4 486.45,422.25 486.45,428.55" fill="#0000d8"/>
<polyline points="225.4,338.3 313.5,324 401.5,353.6 489.6,381.5" fill="none" stroke="#168c36" stroke-width="1.8" stroke-linejoin="round" stroke-linecap="butt" stroke-dasharray="8.53 17.46"/>
<polygon points="222.25,335.15 228.55,335.15 225.4,341.45" fill="#168c36"/>
<polygon points="310.35,320.85 316.65,320.85 313.5,327.15" fill="#168c36"/>
<polygon points="398.35,350.45 404.65,350.45 401.5,356.75" fill="#168c36"/>
<polygon points="486.45,378.35 492.75,378.35 489.6,384.65" fill="#168c36"/>
<polyline points="225.4,340.3 313.5,371.2 401.5,387.2 489.6,416.5" fill="none" stroke="#fa0a66" stroke-width="1.8" stroke-linejoin="round" stroke-linecap="square"/>
<polygon points="222.2,340.3 228.6,337.1 228.6,343.5" fill="#fa0a66"/>
<polygon points="310.3,371.2 316.7,368 316.7,374.4" fill="#fa0a66"/>
<polygon points="398.3,387.2 404.7,384 404.7,390.4" fill="#fa0a66"/>
<polygon points="486.4,416.5 492.8,413.3 492.8,419.7" fill="#fa0a66"/>
<polyline points="225.4,378.6 313.5,365.2 401.5,400.6 489.6,381.7" fill="none" stroke="#704810" stroke-width="1.8" stroke-linejoin="round" stroke-linecap="butt" stroke-dasharray="6.45 2.79"/>
<polygon points="228.5,378.6 226.95,381.28 223.85,381.28 222.3,378.6 223.85,375.92 226.95,375.92" fill="#704810"/>
<polygon points="316.6,365.2 315.05,367.88 311.95,367.88 310.4,365.2 311.95,362.52 315.05,362.52" fill="#704810"/>
<polygon points="404.6,400.6 403.05,403.28 399.95,403.28 398.4,400.6 399.95,397.92 403.05,397.92" fill="#704810"/>
<polygon points="492.7,381.7 491.15,384.38 488.05,384.38 486.5,381.7 488.05,379.02 491.15,379.02" fill="#704810"/>
<polyline points="225.4,295.2 313.5,320.1 401.5,307.2 489.6,295.3" fill="none" stroke="#52007f" stroke-width="1.8" stroke-linejoin="round" stroke-linecap="butt" stroke-dasharray="11.06 2.79 1.73 2.79"/>
<polygon points="225.4,291.8 226.34,293.91 228.63,294.15 226.92,295.69 227.4,297.95 225.4,296.8 223.4,297.95 223.88,295.69 222.17,294.15 224.46,293.91" fill="#52007f"/>
<polygon points="313.5,316.7 314.44,318.81 316.73,319.05 315.02,320.59 315.5,322.85 313.5,321.7 311.5,322.85 311.98,320.59 310.27,319.05 312.56,318.81" fill="#52007f"/>
<polygon points="401.5,303.8 402.44,305.91 404.73,306.15 403.02,307.69 403.5,309.95 401.5,308.8 399.5,309.95 399.98,307.69 398.27,306.15 400.56,305.91" fill="#52007f"/>
<polygon points="489.6,291.9 490.54,294.01 492.83,294.25 491.12,295.79 491.6,298.05 489.6,296.9 487.6,298.05 488.08,295.79 486.37,294.25 488.66,294.01" fill="#52007f"/>
<polyline points="225.4,333.8 313.5,344 401.5,357.8 489.6,373.9" fill="none" stroke="#006b6b" stroke-width="1.8" stroke-linejoin="round" stroke-linecap="butt" stroke-dasharray="1.73 2.88"/>
<polygon points="225.4,330.65 228.55,336.95 222.25,336.95" fill="#006b6b"/>
<polygon points="313.5,340.85 316.65,347.15 310.35,347.15" fill="#006b6b"/>
<polygon points="401.5,354.65 404.65,360.95 398.35,360.95" fill="#006b6b"/>
<polygon points="489.6,370.75 492.75,377.05 486.45,377.05" fill="#006b6b"/>
<polyline points="225.4,324.3 313.5,347.4 401.5,370.3 489.6,372.8" fill="none" stroke="#cccc00" stroke-width="1.8" stroke-linejoin="round" stroke-linecap="square"/>
<polygon points="225.4,321 228.54,323.28 227.34,326.97 223.46,326.97 222.26,323.28" fill="#cccc00"/>
<polygon points="313.5,344.1 316.64,346.38 315.44,350.07 311.56,350.07 310.36,346.38" fill="#cccc00"/>
<polygon points="401.5,367 404.64,369.28 403.44,372.97 399.56,372.97 398.36,369.28" fill="#cccc00"/>
<polygon points="489.6,369.5 492.74,371.78 491.54,375.47 487.66,375.47 486.46,371.78" fill="#cccc00"/>
<polyline points="225.4,410.5 313.5,411.5 401.5,418.6 489.6,442.6" fill="none" stroke="#e60000" stroke-width="1.8" stroke-linejoin="round" stroke-linecap="butt" stroke-dasharray="6.45 2.79"/>
<polygon points="228.5,410.5 226.95,413.18 223.85,413.18 222.3,410.5 223.85,407.82 226.95,407.82" fill="#e60000"/>
<polygon points="316.6,411.5 315.05,414.18 311.95,414.18 310.4,411.5 311.95,408.82 315.05,408.82" fill="#e60000"/>
<polygon points="404.6,418.6 403.05,421.28 399.95,421.28 398.4,418.6 399.95,415.92 403.05,415.92" fill="#e60000"/>
<polygon points="492.7,442.6 491.15,445.28 488.05,445.28 486.5,442.6 488.05,439.92 491.15,439.92" fill="#e60000"/>
<rect x="212" y="288.1" width="290.5" height="161.7" fill="none" stroke="#000" stroke-width="1.4"/>
<text x="206.3" y="427" font-family='"Liberation Sans", sans-serif' font-size="10.6" font-weight="bold" text-anchor="end" textLength="22.95" lengthAdjust="spacingAndGlyphs" stroke="#000" stroke-width="0.3">0.05</text>
<text x="206.3" y="398" font-family='"Liberation Sans", sans-serif' font-size="10.6" font-weight="bold" text-anchor="end" textLength="22.95" lengthAdjust="spacingAndGlyphs" stroke="#000" stroke-width="0.3">0.10</text>
<text x="206.3" y="370" font-family='"Liberation Sans", sans-serif' font-size="10.6" font-weight="bold" text-anchor="end" textLength="22.95" lengthAdjust="spacingAndGlyphs" stroke="#000" stroke-width="0.3">0.15</text>
<text x="206.3" y="342" font-family='"Liberation Sans", sans-serif' font-size="10.6" font-weight="bold" text-anchor="end" textLength="22.95" lengthAdjust="spacingAndGlyphs" stroke="#000" stroke-width="0.3">0.20</text>
<text x="206.3" y="314" font-family='"Liberation Sans", sans-serif' font-size="10.6" font-weight="bold" text-anchor="end" textLength="22.95" lengthAdjust="spacingAndGlyphs" stroke="#000" stroke-width="0.3">0.25</text>
<text x="225.4" y="462.3" font-family='"Liberation Sans", sans-serif' font-size="10.7" font-weight="bold" text-anchor="middle" textLength="13.22" lengthAdjust="spacingAndGlyphs" stroke="#000" stroke-width="0.3">60</text>
<text x="313.5" y="462.3" font-family='"Liberation Sans", sans-serif' font-size="10.7" font-weight="bold" text-anchor="middle" textLength="13.22" lengthAdjust="spacingAndGlyphs" stroke="#000" stroke-width="0.3">70</text>
<text x="401.5" y="462.3" font-family='"Liberation Sans", sans-serif' font-size="10.7" font-weight="bold" text-anchor="middle" textLength="13.22" lengthAdjust="spacingAndGlyphs" stroke="#000" stroke-width="0.3">80</text>
<text x="489.6" y="462.3" font-family='"Liberation Sans", sans-serif' font-size="10.7" font-weight="bold" text-anchor="middle" textLength="13.22" lengthAdjust="spacingAndGlyphs" stroke="#000" stroke-width="0.3">90</text>
<text x="357.1" y="476.5" font-family='"Liberation Sans", sans-serif' font-size="12.2" font-weight="bold" text-anchor="middle" textLength="121" lengthAdjust="spacingAndGlyphs" stroke="#000" stroke-width="0.34">Training Data (%)</text>
<g transform="translate(178.6,369.9) rotate(-90)"><text x="0" y="0" font-family='"Liberation Sans", sans-serif' font-size="12.2" font-weight="bold" text-anchor="middle" textLength="26.6" lengthAdjust="spacingAndGlyphs" stroke="#000" stroke-width="0.34">FPR</text></g>
<rect x="205.5" y="482.2" width="303.7" height="59.6" rx="1.4" ry="1.4" fill="#fff" stroke="#4a4a4a" stroke-width="1.1"/>
<polyline points="209.2,489.7 229,489.7" fill="none" stroke="#666630" stroke-width="1.8" stroke-linejoin="round" stroke-linecap="butt" stroke-dasharray="6.45 2.79"/>
<polygon points="219.1,485.55 221.7,489.7 219.1,493.85 216.5,489.7" fill="#666630"/>
<text x="237.3" y="493.2" font-family='"Liberation Sans", sans-serif' font-size="9.8" font-weight="bold" text-anchor="start" textLength="46.09" lengthAdjust="spacingAndGlyphs" stroke="#000" stroke-width="0.27">XGBoost</text>
<polyline points="209.2,504 229,504" fill="none" stroke="#00f5c8" stroke-width="1.8" stroke-linejoin="round" stroke-linecap="square"/>
<rect x="216.15" y="501.05" width="5.9" height="5.9" fill="#00f5c8"/>
<text x="237.3" y="507.5" font-family='"Liberation Sans", sans-serif' font-size="9.8" font-weight="bold" text-anchor="start" textLength="56.23" lengthAdjust="spacingAndGlyphs" stroke="#000" stroke-width="0.27">LSTM-CNN</text>
<polyline points="209.2,518.3 229,518.3" fill="none" stroke="#0000d8" stroke-width="1.8" stroke-linejoin="round" stroke-linecap="butt" stroke-dasharray="5.18 8.73 1.73 8.68"/>
<polygon points="222.25,518.3 215.95,515.15 215.95,521.45" fill="#0000d8"/>
<text x="237.3" y="521.8" font-family='"Liberation Sans", sans-serif' font-size="9.8" font-weight="bold" text-anchor="start" textLength="41.76" lengthAdjust="spacingAndGlyphs" stroke="#000" stroke-width="0.27">LinkNet</text>
<polyline points="209.2,532.6 229,532.6" fill="none" stroke="#168c36" stroke-width="1.8" stroke-linejoin="round" stroke-linecap="butt" stroke-dasharray="8.53 17.46"/>
<polygon points="215.95,529.45 222.25,529.45 219.1,535.75" fill="#168c36"/>
<text x="237.3" y="536.1" font-family='"Liberation Sans", sans-serif' font-size="9.8" font-weight="bold" text-anchor="start" textLength="50.75" lengthAdjust="spacingAndGlyphs" stroke="#000" stroke-width="0.27">GhostNet</text>
<polyline points="313.1,489.7 332.8,489.7" fill="none" stroke="#fa0a66" stroke-width="1.8" stroke-linejoin="round" stroke-linecap="square"/>
<polygon points="319.75,489.7 326.15,486.5 326.15,492.9" fill="#fa0a66"/>
<text x="340.6" y="493.2" font-family='"Liberation Sans", sans-serif' font-size="9.8" font-weight="bold" text-anchor="start" textLength="56.88" lengthAdjust="spacingAndGlyphs" stroke="#000" stroke-width="0.27">GoogleNet</text>
<polyline points="313.1,504 332.8,504" fill="none" stroke="#704810" stroke-width="1.8" stroke-linejoin="round" stroke-linecap="butt" stroke-dasharray="6.45 2.79"/>
<polygon points="326.05,504 324.5,506.68 321.4,506.68 319.85,504 321.4,501.32 324.5,501.32" fill="#704810"/>
<text x="340.6" y="507.5" font-family='"Liberation Sans", sans-serif' font-size="9.8" font-weight="bold" text-anchor="start" textLength="42.56" lengthAdjust="spacingAndGlyphs" stroke="#000" stroke-width="0.27">AlexNet</text>
<polyline points="313.1,518.3 332.8,518.3" fill="none" stroke="#52007f" stroke-width="1.8" stroke-linejoin="round" stroke-linecap="butt" stroke-dasharray="11.06 2.79 1.73 2.79"/>
<polygon points="322.95,514.9 323.89,517.01 326.18,517.25 324.47,518.79 324.95,521.05 322.95,519.9 320.95,521.05 321.43,518.79 319.72,517.25 322.01,517.01" fill="#52007f"/>
<text x="340.6" y="521.8" font-family='"Liberation Sans", sans-serif' font-size="9.8" font-weight="bold" text-anchor="start" textLength="63.31" lengthAdjust="spacingAndGlyphs" stroke="#000" stroke-width="0.27">EfficientNet</text>
<polyline points="424.9,489.7 444.6,489.7" fill="none" stroke="#006b6b" stroke-width="1.8" stroke-linejoin="round" stroke-linecap="butt" stroke-dasharray="1.73 2.88"/>
<polygon points="434.75,486.55 437.9,492.85 431.6,492.85" fill="#006b6b"/>
<text x="452.7" y="493.2" font-family='"Liberation Sans", sans-serif' font-size="9.8" font-weight="bold" text-anchor="start" textLength="23.11" lengthAdjust="spacingAndGlyphs" stroke="#000" stroke-width="0.27">CNN</text>
<polyline points="424.9,504 444.6,504" fill="none" stroke="#cccc00" stroke-width="1.8" stroke-linejoin="round" stroke-linecap="square"/>
<polygon points="434.75,500.7 437.89,502.98 436.69,506.67 432.81,506.67 431.61,502.98" fill="#cccc00"/>
<text x="452.7" y="507.5" font-family='"Liberation Sans", sans-serif' font-size="9.8" font-weight="bold" text-anchor="start" textLength="52.29" lengthAdjust="spacingAndGlyphs" stroke="#000" stroke-width="0.27">Ensemble</text>
<polyline points="424.9,518.3 444.6,518.3" fill="none" stroke="#e60000" stroke-width="1.8" stroke-linejoin="round" stroke-linecap="butt" stroke-dasharray="6.45 2.79"/>
<polygon points="437.85,518.3 436.3,520.98 433.2,520.98 431.65,518.3 433.2,515.62 436.3,515.62" fill="#e60000"/>
<text x="452.7" y="521.8" font-family='"Liberation Sans", sans-serif' font-size="9.8" font-weight="bold" text-anchor="start" textLength="48.72" lengthAdjust="spacingAndGlyphs" stroke="#000" stroke-width="0.27">ILN-GNet</text>
<text x="337.8" y="568.7" font-family='"Liberation Serif", serif' font-size="19" font-weight="normal" text-anchor="middle" stroke="#000" stroke-width="0.15">(c)</text>
</svg>
</body></html>
